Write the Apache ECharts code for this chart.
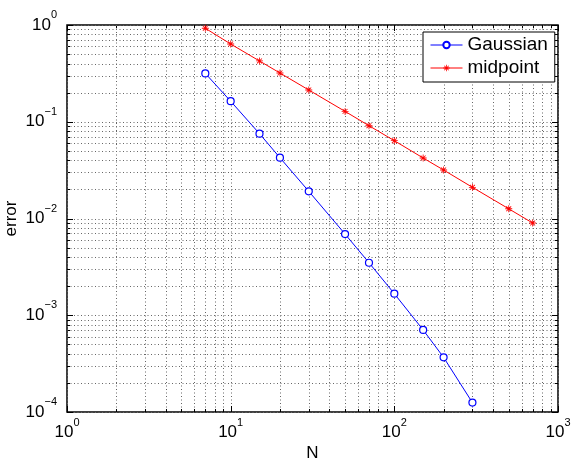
<!DOCTYPE html>
<html>
<head>
<meta charset="utf-8">
<script src="https://cdn.jsdelivr.net/npm/echarts@6/dist/echarts.min.js"></script>
<style>
  html, body { margin: 0; padding: 0; background: #fff; }
  #chart { width: 575px; height: 460px; }
</style>
</head>
<body>
<div id="chart"></div>
<script>
var nGauss = [7, 10, 15, 20, 30, 50, 70, 100, 150, 200, 300];
var errGauss = [0.316, 0.163, 0.0753, 0.0425, 0.0191, 0.0069, 0.00349, 0.00167, 0.000705, 0.000367, 0.000125];
var nMid = [7, 10, 15, 20, 30, 50, 70, 100, 150, 200, 300, 500, 700];
var errMid = [0.925, 0.636, 0.425, 0.319, 0.213, 0.128, 0.091, 0.0637, 0.0422, 0.0317, 0.021, 0.0126, 0.00898];

var xMajor = [1, 10, 100, 1000];
var xMinor = [2, 3, 4, 5, 6, 7, 8, 9, 20, 30, 40, 50, 60, 70, 80, 90, 200, 300, 400, 500, 600, 700, 800, 900];
var yMajor = [0.0001, 0.001, 0.01, 0.1, 1];
var yMinor = [0.0002, 0.0003, 0.0004, 0.0005, 0.0006, 0.0007, 0.0008, 0.0009,
  0.002, 0.003, 0.004, 0.005, 0.006, 0.007, 0.008, 0.009,
  0.02, 0.03, 0.04, 0.05, 0.06, 0.07, 0.08, 0.09,
  0.2, 0.3, 0.4, 0.5, 0.6, 0.7, 0.8, 0.9];

var FONT = "Liberation Sans, Arial, Helvetica, sans-serif";
var STAR = "path://M4.4 0L5.6 0L5.6 10L4.4 10Z M0 4.4L10 4.4L10 5.6L0 5.6Z " +
  "M1.08 1.92L1.92 1.08L8.92 8.08L8.08 8.92Z M8.08 1.08L8.92 1.92L1.92 8.92L1.08 8.08Z";

function pow10Label(v) {
  var e = Math.round(Math.log10(v));
  return "{b|10}{s|" + String(e).replace("-", "\u2212") + "}";
}

var labelRich = {
  b: { fontSize: 17, fontFamily: FONT, color: "#000" },
  s: { fontSize: 11, fontFamily: FONT, color: "#000", padding: [0, 0, 20, 0] }
};

// dotted grid lines plus inward ticks on all four sides
function gridSeries(dir, values, tickLen) {
  return {
    type: "custom",
    silent: true,
    z: 1,
    clip: false,
    data: values.map(function (v) { return dir === "x" ? [v, 0.01] : [10, v]; }),
    renderItem: function (params, api) {
      var cs = params.coordSys;
      var p = api.coord([api.value(0), api.value(1)]);
      var dash = { stroke: "#666", lineWidth: 1, lineDash: [1, 2.5] };
      var solid = { stroke: "#000", lineWidth: 1, lineDash: null };
      var kids;
      if (dir === "x") {
        var x = Math.round(p[0]) + 0.5;
        var y0 = cs.y, y1 = cs.y + cs.height;
        kids = [
          { type: "line", shape: { x1: x, y1: y0, x2: x, y2: y1 }, style: dash },
          { type: "line", shape: { x1: x, y1: y1, x2: x, y2: y1 - tickLen }, style: solid },
          { type: "line", shape: { x1: x, y1: y0, x2: x, y2: y0 + tickLen }, style: solid }
        ];
      } else {
        var y = Math.round(p[1]) + 0.5;
        var x0 = cs.x, x1 = cs.x + cs.width;
        kids = [
          { type: "line", shape: { x1: x0, y1: y, x2: x1, y2: y }, style: dash },
          { type: "line", shape: { x1: x0, y1: y, x2: x0 + tickLen, y2: y }, style: solid },
          { type: "line", shape: { x1: x1, y1: y, x2: x1 - tickLen, y2: y }, style: solid }
        ];
      }
      return { type: "group", children: kids };
    }
  };
}

var chart = echarts.init(document.getElementById("chart"), null, { renderer: "canvas" });

chart.setOption({
  animation: false,
  backgroundColor: "#fff",
  grid: {
    left: 67, right: 17, top: 25, bottom: 48,
    outerBoundsMode: "none", containLabel: false,
    show: true, borderColor: "#000", borderWidth: 1.5, backgroundColor: "#fff"
  },
  legend: {
    orient: "vertical",
    left: 423, top: 32,
    padding: [3, 7, 4, 7],
    itemWidth: 32, itemHeight: 8, itemGap: 3,
    borderColor: "#000", borderWidth: 1, backgroundColor: "#fff",
    lineStyle: { width: 1 },
    textStyle: { fontSize: 19, lineHeight: 20, fontFamily: FONT, color: "#000" },
    data: ["Gaussian", "midpoint"]
  },
  xAxis: {
    type: "log", logBase: 10, min: 1, max: 1000,
    name: "N", nameLocation: "middle", nameGap: 33, nameMoveOverlap: false,
    nameTextStyle: { fontSize: 17, fontFamily: FONT, color: "#000" },
    axisLine: { show: false },
    axisTick: { show: false },
    splitLine: { show: false },
    axisLabel: { margin: 5, formatter: pow10Label, rich: labelRich }
  },
  yAxis: {
    type: "log", logBase: 10, min: 0.0001, max: 1,
    name: "error", nameLocation: "middle", nameGap: 47, nameMoveOverlap: false,
    nameTextStyle: { fontSize: 17, fontFamily: FONT, color: "#000" },
    axisLine: { show: false },
    axisTick: { show: false },
    splitLine: { show: false },
    axisLabel: { margin: 10, formatter: pow10Label, rich: labelRich }
  },
  series: [
    gridSeries("x", xMinor, 3),
    gridSeries("y", yMinor, 3),
    gridSeries("x", xMajor, 6),
    gridSeries("y", yMajor, 6),
    {
      name: "Gaussian",
      type: "line",
      z: 3,
      data: nGauss.map(function (n, i) { return [n, errGauss[i]]; }),
      symbol: "circle",
      symbolSize: 7,
      showAllSymbol: true,
      lineStyle: { color: "#0000ff", width: 1, type: "solid" },
      itemStyle: { color: "#ffffff", borderColor: "#0000ff", borderWidth: 1.2 }
    },
    {
      name: "midpoint",
      type: "line",
      z: 3,
      data: nMid.map(function (n, i) { return [n, errMid[i]]; }),
      symbol: STAR,
      symbolSize: 7,
      showAllSymbol: true,
      lineStyle: { color: "#ff0000", width: 1, type: "solid" },
      itemStyle: { color: "#ff0000", borderColor: "#ff0000", borderWidth: 0 }
    }
  ]
});
</script>
</body>
</html>
